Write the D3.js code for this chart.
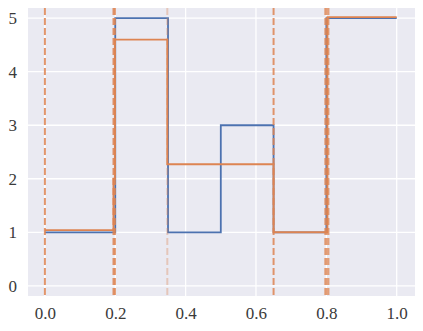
<!DOCTYPE html>
<html>
<head>
<meta charset="utf-8">
<script src="https://cdn.jsdelivr.net/npm/d3@7/dist/d3.min.js"></script>
<style>
    body { margin: 0; background: white; }
</style>
</head>
<body>
<div id="panel"></div>
<script>
    // step breakpoints and levels
    var blue_x = [0, 0.2, 0.35, 0.5, 0.65, 0.8, 1.0];
    var blue_y = [1, 5, 1, 3, 1, 5];
    var orange_x = [0, 0.195, 0.199, 0.348, 0.65, 0.803, 1.0];
    var orange_y = [1.04, 2.0, 4.6, 2.27, 1.0, 5.02];
    // dashed cut positions
    var cut_x = [0, 0.195, 0.199, 0.348, 0.65, 0.797, 0.801, 0.806];
    var cut_alpha = [0.85, 0.85, 0.85, 0.35, 0.85, 0.75, 0.75, 0.75];
    var x_ticks = [0, 0.2, 0.4, 0.6, 0.8, 1.0];
    var y_ticks = [0, 1, 2, 3, 4, 5];

    var width = 423, height = 331;
    var margin = {left: 28, right: 8, top: 8, bottom: 35};
    var tick_font = "'Liberation Serif', 'DejaVu Serif', serif";

    var svg = d3.select("#panel").append("svg")
                .attr("width", width)
                .attr("height", height);

    var x = d3.scaleLinear().domain([-0.048, 1.052]).range([margin.left, width - margin.right]);
    var y = d3.scaleLinear().domain([-0.19, 5.19]).range([height - margin.bottom, margin.top]);

    svg.append("rect")
       .attr("x", margin.left)
       .attr("y", margin.top)
       .attr("width", width - margin.left - margin.right)
       .attr("height", height - margin.top - margin.bottom)
       .attr("fill", "#eaeaf2");

    // grid
    svg.append("g").selectAll("line").data(x_ticks).join("line")
       .attr("x1", d => x(d)).attr("x2", d => x(d))
       .attr("y1", margin.top).attr("y2", height - margin.bottom)
       .attr("stroke", "white").attr("stroke-width", 1.3);
    svg.append("g").selectAll("line").data(y_ticks).join("line")
       .attr("y1", d => y(d)).attr("y2", d => y(d))
       .attr("x1", margin.left).attr("x2", width - margin.right)
       .attr("stroke", "white").attr("stroke-width", 1.3);

    // axes (labels only)
    var xAxis = svg.append("g")
       .attr("transform", "translate(0," + (height - margin.bottom) + ")")
       .call(d3.axisBottom(x).tickValues(x_ticks).tickFormat(d3.format(".1f")).tickSize(0).tickPadding(11));
    var yAxis = svg.append("g")
       .attr("transform", "translate(" + margin.left + ",0)")
       .call(d3.axisLeft(y).tickValues(y_ticks).tickFormat(d3.format("d")).tickSize(0).tickPadding(11));
    [xAxis, yAxis].forEach(function(ax){
        ax.select(".domain").remove();
        ax.selectAll("text")
          .style("font-family", tick_font)
          .style("font-size", "17px")
          .style("fill", "#3a3a3a");
    });

    function step_points(xs, ys)
    {
        var pts = [];
        for(var i = 0; i < ys.length; ++i)
            pts.push([xs[i], ys[i]]);
        pts.push([xs[xs.length - 1], ys[ys.length - 1]]);
        return pts;
    }

    var line = d3.line().x(d => x(d[0])).y(d => y(d[1])).curve(d3.curveStepAfter);

    svg.append("path")
       .attr("d", line(step_points(blue_x, blue_y)))
       .attr("fill", "none")
       .attr("stroke", "#4c72b0")
       .attr("stroke-width", 1.8);

    svg.append("path")
       .attr("d", line(step_points(orange_x, orange_y)))
       .attr("fill", "none")
       .attr("stroke", "#dd8452")
       .attr("stroke-width", 1.9);

    svg.append("g").selectAll("line").data(cut_x).join("line")
       .attr("x1", d => x(d)).attr("x2", d => x(d))
       .attr("y1", margin.top).attr("y2", height - margin.bottom)
       .attr("stroke", "#dd8452")
       .attr("stroke-opacity", (d, i) => cut_alpha[i])
       .attr("stroke-width", 2)
       .attr("stroke-dasharray", "7,3");
</script>
</body>
</html>
